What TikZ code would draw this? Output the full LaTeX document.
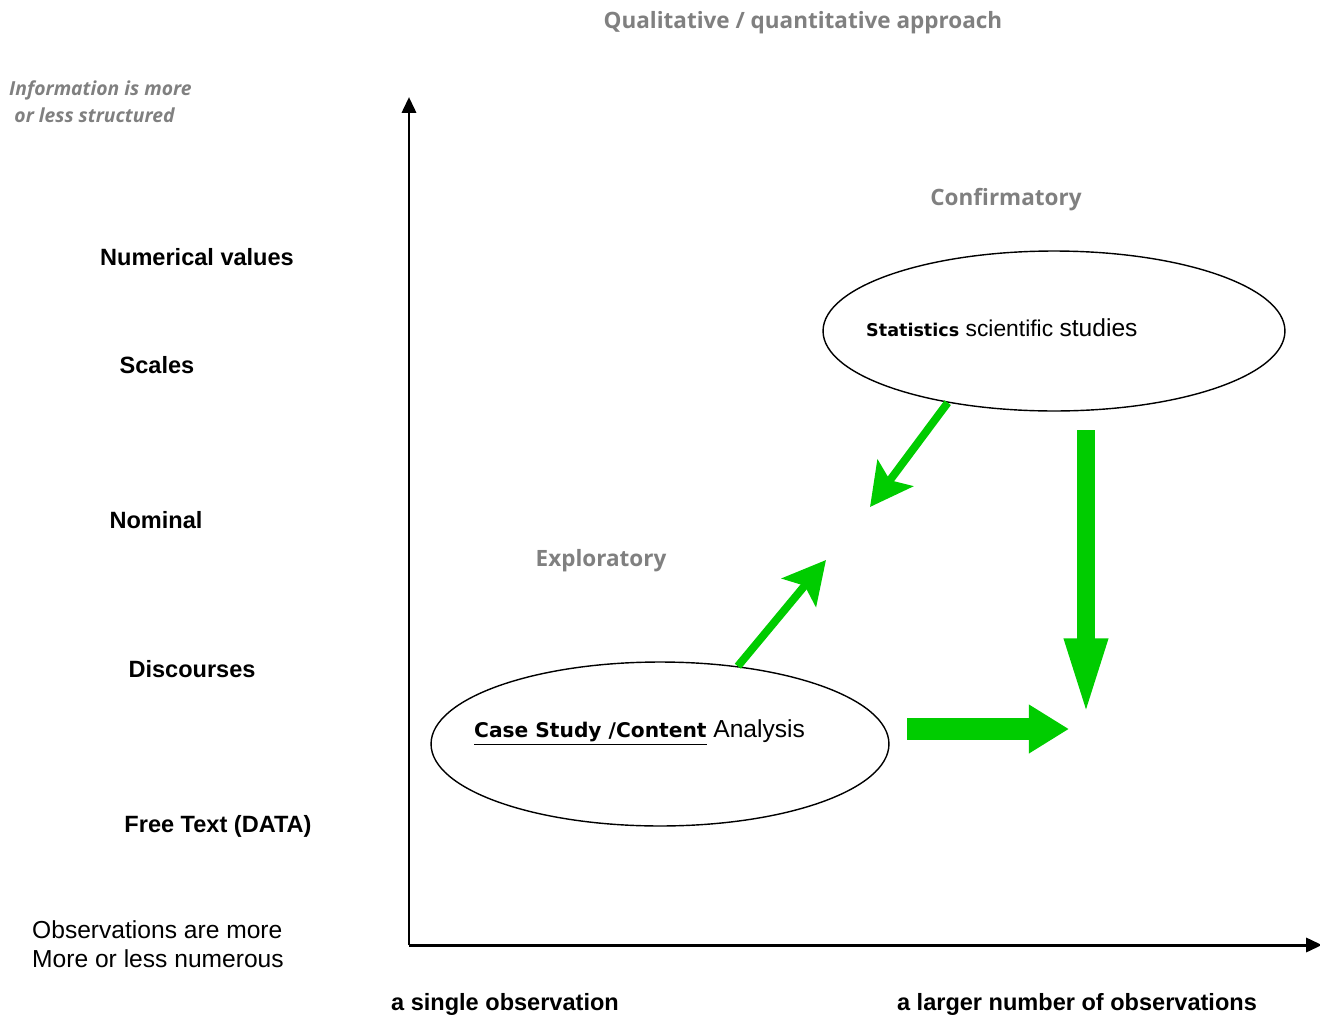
\documentclass[tikz,border=0pt]{standalone}
\usepackage{fontspec}
\setmainfont{Liberation Sans}
\newfontfamily\opensans{Open Sans}
\newfontfamily\dejavu{DejaVu Sans}
\definecolor{grey1}{RGB}{128,128,128}
\definecolor{green1}{RGB}{0,204,0}
\usetikzlibrary{shapes, arrows.meta, positioning, calc}

\begin{document}
\begin{tikzpicture}[x=0.02cm, y=-0.02cm,
  greylabel/.style={text=grey1, font=\opensans\bfseries\fontsize{12.8}{15}\selectfont},
  rowlabel/.style={font=\bfseries\fontsize{13.4}{15}\selectfont},
  blob/.style={draw, ellipse, line width=0.8pt, inner sep=0pt},
  axis/.style={line width=1.7pt, -{Triangle[length=9pt, width=8pt]}},
  thinarrow/.style={draw=green1, line width=4.5pt, -{Stealth[length=24pt, width=25pt, inset=5pt]}},
  fatarrow/.style={draw=green1, line width=#1}]
  \useasboundingbox (0,0) rectangle (1320,1018);

  % axes
  \coordinate (origin) at (409,945);
  \coordinate (ytop) at (409,97);
  \coordinate (xend) at (1322,945);
  \draw[axis] (origin) -- (ytop);
  \draw[axis] (origin) -- (xend);

  % titles
  \node[greylabel] (title) at (803,23) {Qualitative / quantitative approach};
  \node[anchor=west, text=grey1, align=left, font=\opensans\bfseries\itshape\fontsize{11}{15.4}\selectfont] (info) at (3,102) {Information is more\\\hspace{3pt}or less structured};
  \node[greylabel] (confirm) at (1006,200) {Confirmatory};
  \node[greylabel] (explore) at (601,561) {Exploratory};

  % left column
  \node[rowlabel] (numeric) at (197,257) {Numerical values};
  \node[rowlabel] (scales) at (157,365) {Scales};
  \node[rowlabel] (nominal) at (156,520) {Nominal};
  \node[rowlabel] (discourse) at (192,669) {Discourses};
  \node[rowlabel] (freetext) at (218,826) {Free Text (DATA)};
  \node[anchor=west, align=left, font=\fontsize{14}{16.5}\selectfont] (observ) at (26,944) {Observations are more\\More or less numerous};

  % x-axis labels
  \node[rowlabel] (single) at (505,1004) {a single observation};
  \node[rowlabel] (larger) at (1077,1004) {a larger number of observations};

  % ellipses
  \node[blob, minimum width=9.24cm, minimum height=3.2cm] (stats) at (1054,331) {};
  \node[anchor=west, font=\fontsize{13}{15}\selectfont] (statstext) at (860,328) {{\dejavu\bfseries\fontsize{10}{12}\selectfont Statistics} scientific {\fontsize{14}{16}\selectfont studies}};
  \node[blob, minimum width=9.16cm, minimum height=3.28cm] (case) at (660,744) {};
  \node[anchor=west, font=\fontsize{14}{16}\selectfont] (casetext) at (468,733) {{\dejavu\bfseries\fontsize{11.5}{14}\selectfont\underline{Case Study /Content}} Analysis};

  % green arrows
  \coordinate (backtip) at (870,507);
  \coordinate (uptip) at (826,560);
  \coordinate (downfrom) at (1086,430);
  \coordinate (downtip) at (1086,720);
  \coordinate (rightfrom) at (907,729);
  \coordinate (righttip) at (1069,729);
  \draw[thinarrow] (stats.214) -- (backtip);
  \draw[thinarrow] (case.45) -- (uptip);
  \draw[fatarrow=10.8pt, -{Triangle[length=46.5pt, width=21.6pt]}] (downfrom) -- (downtip);
  \draw[fatarrow=12.5pt, -{Triangle[length=22.8pt, width=26.2pt]}] (rightfrom) -- (righttip);
\end{tikzpicture}
\end{document}
